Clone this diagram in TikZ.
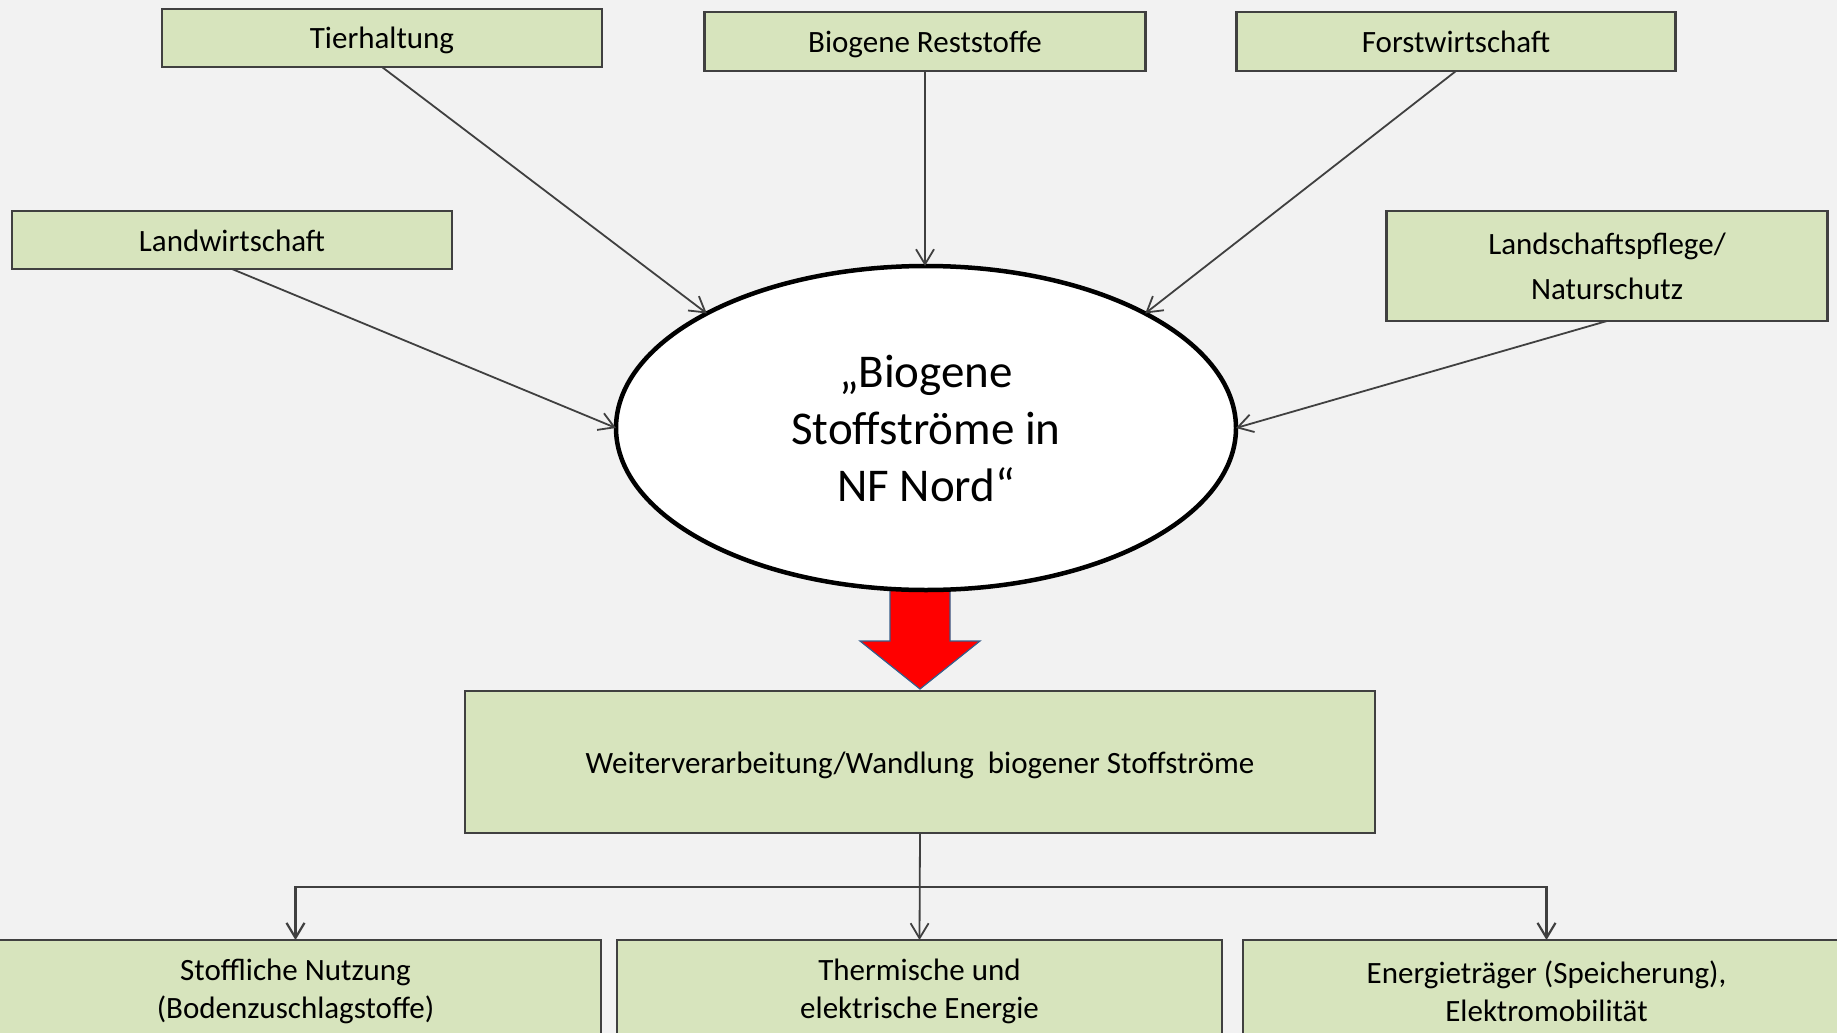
\documentclass[tikz,border=0pt]{standalone}
\usepackage{fontspec}
\setmainfont{Carlito}
\usetikzlibrary{arrows.meta,shapes.geometric}
\definecolor{boxgreen}{HTML}{D7E4BD}
\definecolor{bggrey}{HTML}{F2F2F2}
\definecolor{linegrey}{HTML}{404040}
\definecolor{arrowblue}{HTML}{385D8A}
\begin{document}
\begin{tikzpicture}[x=1pt, y=-1pt,
  main/.style = {draw=linegrey, line width=2.5pt, fill=boxgreen, inner sep=0pt, outer sep=0pt, align=center, font=\fontsize{31}{45}\selectfont},
  one/.style = {main, text height=26pt, text depth=4pt},
  low/.style = {main, minimum height=102pt, font=\fontsize{31}{38}\selectfont},
  oval/.style = {ellipse, draw=black, line width=4.5pt, fill=white, inner sep=0pt, outer sep=0pt, minimum width=620pt, minimum height=324pt, align=center, font=\fontsize{47}{57}\selectfont},
  link/.style = {draw=linegrey, line width=1.8pt, -{Straight Barb[length=15pt, width=18pt]}}]
\useasboundingbox (0,0) rectangle (1837,1033);
\clip (0,0) rectangle (1837,1033);
\fill[bggrey] (0,0) rectangle (1837,1033);

\filldraw[fill=red, draw=arrowblue, line width=1.2pt] (890,588) -- (950,588) -- (950,641) -- (980,641) -- (920,689) -- (860,641) -- (890,641) -- cycle;

\node[one, minimum width=440pt, minimum height=58pt] (1) at (382,38) {Tierhaltung};
\node[one, minimum width=441pt, minimum height=59pt] (2) at (925,41.5) {Biogene Reststoffe};
\node[one, minimum width=439pt, minimum height=59pt] (3) at (1456,41.5) {Forstwirtschaft};
\node[one, minimum width=440pt, minimum height=58pt] (4) at (232,240) {Landwirtschaft};
\node[main, minimum width=441pt, minimum height=110pt] (5) at (1607,266) {Landschaftspflege/\\Naturschutz};
\node[oval] (6) at (926,428) {„Biogene\\Stoffströme in\\NF Nord“};
\node[one, minimum width=910pt, minimum height=142pt] (7) at (920,762) {Weiterverarbeitung/Wandlung\ \ biogener Stoffströme};
\node[low, minimum width=611pt] (8) at (295.5,991) {Stoffliche Nutzung\\(Bodenzuschlagstoffe)};
\node[low, minimum width=605pt] (9) at (919.5,991) {Thermische und\\elektrische Energie};
\node[low, minimum width=607pt] (10) at (1546.5,991) {Energieträger (Speicherung),\\Elektromobilität};
\coordinate (11) at ([yshift=-54pt]7.south);

\draw[link] (1.south) -- (6.north west);
\draw[link] (2.south) -- (2.south |- 6.north);
\draw[link] (3.south) -- (6.north east);
\draw[link] (4.south) -- (6.west);
\draw[link] (5.south) -- (6.east);
\draw[link] (7.south) -- (9.north);
\draw[link, line width=2.2pt] (11) -| (8.north);
\draw[link, line width=2.2pt] (11) -| (10.north);
\end{tikzpicture}
\end{document}
